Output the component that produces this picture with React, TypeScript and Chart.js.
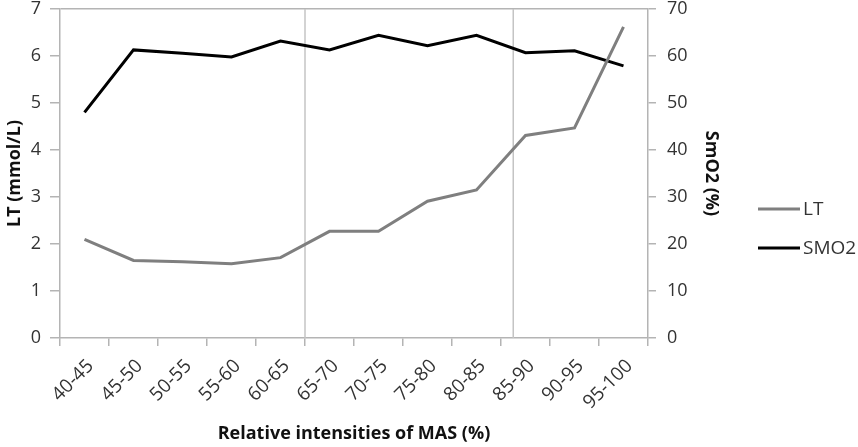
import { useEffect, useRef } from "react";
import { Chart, registerables } from "chart.js";

Chart.register(...registerables);

const categories = [
  "40-45", "45-50", "50-55", "55-60", "60-65", "65-70",
  "70-75", "75-80", "80-85", "85-90", "90-95", "95-100",
];
const ltValues = [2.1, 1.65, 1.62, 1.58, 1.71, 2.27, 2.27, 2.91, 3.15, 4.31, 4.47, 6.62];
const smo2Values = [48, 61.3, 60.6, 59.8, 63.2, 61.3, 64.4, 62.2, 64.4, 60.7, 61.1, 57.9];
// category positions of the two vertical reference lines
const markerPositions = [4.5, 8.75];

const FONT = "'Open Sans', sans-serif";
const AXIS_GRAY = "#b4b4b4";
const TEXT = "#333333";

const markerLines = {
  id: "markerLines",
  beforeDatasetsDraw(chart: any) {
    const { ctx, chartArea, scales } = chart;
    ctx.save();
    ctx.strokeStyle = "#c4c4c4";
    ctx.lineWidth = 1.5;
    markerPositions.forEach((v) => {
      const x = scales.x.getPixelForValue(v);
      ctx.beginPath();
      ctx.moveTo(x, chartArea.top);
      ctx.lineTo(x, chartArea.bottom);
      ctx.stroke();
    });
    ctx.restore();
  },
};

const sideLegend = {
  id: "sideLegend",
  afterDraw(chart: any) {
    const { ctx } = chart;
    ctx.save();
    ctx.font = `19px ${FONT}`;
    ctx.textBaseline = "middle";
    chart.data.datasets.forEach((ds: any, i: number) => {
      const y = 209 + i * 39;
      ctx.strokeStyle = ds.borderColor;
      ctx.lineWidth = ds.borderWidth;
      ctx.beginPath();
      ctx.moveTo(758, y);
      ctx.lineTo(800, y);
      ctx.stroke();
      ctx.fillStyle = TEXT;
      ctx.fillText(ds.label, 803, y + 1);
    });
    ctx.restore();
  },
};

export default function App() {
  const chartRef = useRef<HTMLCanvasElement>(null);
  const chartInstance = useRef<Chart | null>(null);

  useEffect(() => {
    document.body.style.margin = "0";
    if (!chartRef.current) return;
    if (chartInstance.current) chartInstance.current.destroy();
    const ctx = chartRef.current.getContext("2d");
    if (!ctx) return;

    chartInstance.current = new Chart(ctx, {
      type: "line",
      data: {
        labels: categories,
        datasets: [
          {
            label: "LT",
            data: ltValues,
            borderColor: "#7f7f7f",
            borderWidth: 3,
            pointRadius: 0,
            tension: 0,
            yAxisID: "y",
          },
          {
            label: "SMO2",
            data: smo2Values,
            borderColor: "#000000",
            borderWidth: 3,
            pointRadius: 0,
            tension: 0,
            yAxisID: "y2",
          },
        ],
      },
      options: {
        responsive: true,
        maintainAspectRatio: false,
        animation: false,
        layout: { padding: { top: 9, right: 130, left: 0, bottom: 0 } },
        plugins: {
          legend: { display: false },
          tooltip: { enabled: false },
        },
        scales: {
          x: {
            offset: true,
            grid: {
              offset: true,
              drawOnChartArea: false,
              color: AXIS_GRAY,
              tickLength: 8,
              lineWidth: 1.5,
            },
            border: { color: AXIS_GRAY, width: 1.5 },
            ticks: {
              color: TEXT,
              font: { family: FONT, size: 19 },
              minRotation: 45,
              maxRotation: 45,
              padding: 9,
              labelOffset: 6,
              autoSkip: false,
            },
            title: {
              display: true,
              text: "Relative intensities of MAS (%)",
              color: "#111111",
              font: { family: FONT, size: 18, weight: "bold" },
              padding: { top: 0, bottom: 2 },
            },
            afterFit(scale: any) {
              scale.height = 109;
              scale.paddingLeft = 0;
              scale.paddingRight = 0;
            },
          },
          y: {
            position: "left",
            min: 0,
            max: 7,
            ticks: {
              stepSize: 1,
              color: TEXT,
              font: { family: FONT, size: 18 },
              padding: 9,
            },
            grid: {
              color: (c: any) => (c.tick && c.tick.value === 7 ? AXIS_GRAY : "transparent"),
              tickColor: AXIS_GRAY,
              tickLength: 10,
              lineWidth: 1.5,
            },
            border: { color: AXIS_GRAY, width: 1.5 },
            title: {
              display: true,
              text: "LT (mmol/L)",
              color: "#111111",
              font: { family: FONT, size: 18, weight: "bold" },
              padding: { top: 4, bottom: 0 },
            },
            afterFit(scale: any) {
              scale.width = 60;
              scale.paddingTop = 0;
              scale.paddingBottom = 0;
            },
          },
          y2: {
            position: "right",
            min: 0,
            max: 70,
            ticks: {
              stepSize: 10,
              color: TEXT,
              font: { family: FONT, size: 18 },
              padding: 11,
            },
            grid: {
              drawOnChartArea: false,
              color: AXIS_GRAY,
              tickLength: 8,
              lineWidth: 1.5,
            },
            border: { color: AXIS_GRAY, width: 1.5 },
            title: {
              display: true,
              text: "SmO2 (%)",
              color: "#111111",
              font: { family: FONT, size: 18, weight: "bold" },
              padding: { top: 6, bottom: 0 },
            },
            afterFit(scale: any) {
              scale.width = 80;
              scale.paddingTop = 0;
              scale.paddingBottom = 0;
            },
          },
        },
      },
      plugins: [markerLines, sideLegend],
    });

    return () => {
      if (chartInstance.current) {
        chartInstance.current.destroy();
        chartInstance.current = null;
      }
    };
  }, []);

  return (
    <div style={{ position: "relative", width: 858, height: 447 }}>
      <canvas ref={chartRef} />
    </div>
  );
}
